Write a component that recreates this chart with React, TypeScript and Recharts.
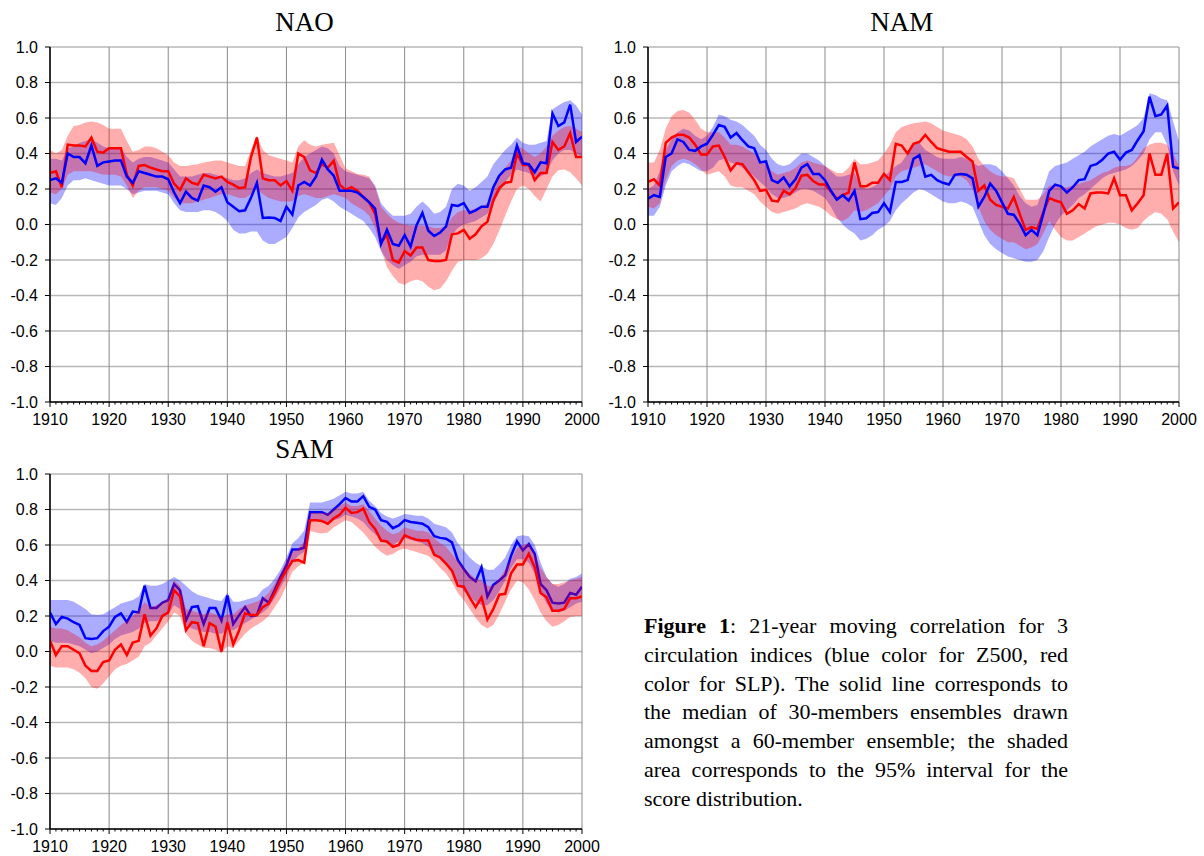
import React from 'react';
import { ComposedChart, Area, Line, XAxis, YAxis, CartesianGrid } from 'recharts';

const YEARS = Array.from({ length: 91 }, (_, i) => 1910 + i);
const DECADES = [1910, 1920, 1930, 1940, 1950, 1960, 1970, 1980, 1990, 2000];
const YTICKS = [-1, -0.8, -0.6, -0.4, -0.2, 0, 0.2, 0.4, 0.6, 0.8, 1];

// ---------------- NAO ----------------
const NAO_RED = [
  0.29, 0.30, 0.21, 0.45, 0.445, 0.445, 0.44, 0.49, 0.41, 0.405,
  0.43, 0.43, 0.43, 0.28, 0.22, 0.33, 0.335, 0.32, 0.31, 0.30,
  0.30, 0.23, 0.195, 0.26, 0.235, 0.225, 0.28, 0.27, 0.26, 0.27,
  0.24, 0.225, 0.205, 0.21, 0.38, 0.49, 0.26, 0.25, 0.25, 0.22,
  0.245, 0.19, 0.40, 0.38, 0.305, 0.29, 0.34, 0.32, 0.36, 0.225,
  0.195, 0.21, 0.19, 0.155, 0.125, 0.06, -0.10, -0.06, -0.20, -0.215,
  -0.15, -0.175, -0.13, -0.13, -0.20, -0.205, -0.205, -0.20, -0.055, -0.05,
  -0.03, -0.08, -0.055, -0.01, 0.015, 0.135, 0.205, 0.235, 0.24, 0.40,
  0.335, 0.335, 0.25, 0.29, 0.29, 0.465, 0.42, 0.44, 0.515, 0.38, 0.38,
];
const NAO_BLUE = [
  0.25, 0.26, 0.235, 0.40, 0.38, 0.38, 0.345, 0.445, 0.33, 0.35,
  0.355, 0.36, 0.36, 0.27, 0.235, 0.30, 0.29, 0.28, 0.27, 0.27,
  0.255, 0.18, 0.12, 0.185, 0.15, 0.135, 0.22, 0.21, 0.185, 0.21,
  0.125, 0.10, 0.075, 0.08, 0.15, 0.235, 0.037, 0.04, 0.037, 0.02,
  0.10, 0.056, 0.22, 0.24, 0.22, 0.27, 0.365, 0.31, 0.275, 0.19,
  0.19, 0.19, 0.18, 0.155, 0.125, 0.09, -0.11, -0.03, -0.11, -0.12,
  -0.06, -0.125, -0.005, 0.065, -0.035, -0.065, -0.045, -0.01, 0.11, 0.105,
  0.12, 0.065, 0.08, 0.10, 0.10, 0.21, 0.275, 0.31, 0.32, 0.445,
  0.345, 0.34, 0.295, 0.35, 0.345, 0.625, 0.555, 0.575, 0.675, 0.465, 0.495,
];
const NAO_RED_HI = [
  0.42, 0.40, 0.42, 0.50, 0.555, 0.56, 0.575, 0.58, 0.575, 0.56,
  0.54, 0.54, 0.54, 0.47, 0.41, 0.42, 0.44, 0.44, 0.43, 0.41,
  0.39, 0.35, 0.33, 0.33, 0.335, 0.34, 0.35, 0.355, 0.36, 0.36,
  0.35, 0.34, 0.33, 0.33, 0.42, 0.50, 0.42, 0.39, 0.38, 0.37,
  0.36, 0.35, 0.44, 0.475, 0.45, 0.44, 0.45, 0.455, 0.46, 0.39,
  0.315, 0.30, 0.285, 0.28, 0.27, 0.21, 0.10, 0.06, 0.03, 0.01,
  0.0, -0.005, -0.005, -0.005, -0.01, -0.02, -0.02, -0.01, 0.04, 0.07,
  0.08, 0.08, 0.09, 0.10, 0.12, 0.20, 0.27, 0.32, 0.36, 0.44,
  0.43, 0.40, 0.38, 0.40, 0.44, 0.50, 0.53, 0.55, 0.555, 0.54, 0.52,
];
const NAO_RED_LO = [
  0.18, 0.17, 0.20, 0.28, 0.30, 0.30, 0.30, 0.30, 0.29, 0.28,
  0.28, 0.28, 0.27, 0.22, 0.15, 0.19, 0.21, 0.21, 0.21, 0.20,
  0.19, 0.15, 0.12, 0.12, 0.12, 0.13, 0.14, 0.15, 0.16, 0.17,
  0.17, 0.16, 0.15, 0.15, 0.17, 0.20, 0.17, 0.15, 0.14, 0.13,
  0.13, 0.13, 0.16, 0.17, 0.16, 0.15, 0.15, 0.16, 0.17, 0.16,
  0.15, 0.12, 0.10, 0.08, 0.05, -0.02, -0.14, -0.24, -0.29, -0.33,
  -0.34, -0.32, -0.31, -0.32, -0.35, -0.37, -0.36, -0.32, -0.26, -0.21,
  -0.20, -0.20, -0.20, -0.19, -0.165, -0.11, -0.035, 0.05, 0.13, 0.20,
  0.22, 0.20, 0.16, 0.13, 0.20, 0.27, 0.305, 0.31, 0.295, 0.26, 0.22,
];
const NAO_BLUE_HI = [
  0.37, 0.37, 0.36, 0.43, 0.44, 0.46, 0.47, 0.48, 0.46, 0.44,
  0.43, 0.43, 0.43, 0.38, 0.35, 0.37, 0.38, 0.38, 0.37, 0.36,
  0.35, 0.31, 0.27, 0.27, 0.27, 0.28, 0.29, 0.29, 0.28, 0.27,
  0.26, 0.25, 0.25, 0.26, 0.29, 0.31, 0.29, 0.28, 0.27, 0.27,
  0.28, 0.29, 0.34, 0.38, 0.40, 0.42, 0.44, 0.43, 0.40, 0.33,
  0.30, 0.29, 0.28, 0.27, 0.26, 0.22, 0.12, 0.08, 0.05, 0.05,
  0.05, 0.06, 0.10, 0.13, 0.10, 0.06, 0.07, 0.10, 0.20, 0.23,
  0.22, 0.19, 0.21, 0.24, 0.27, 0.34, 0.38, 0.42, 0.45, 0.49,
  0.46, 0.45, 0.45, 0.46, 0.47, 0.65, 0.67, 0.69, 0.70, 0.67, 0.62,
];
const NAO_BLUE_LO = [
  0.12, 0.11, 0.15, 0.22, 0.25, 0.25, 0.26, 0.25, 0.24, 0.23,
  0.22, 0.22, 0.22, 0.20, 0.17, 0.18, 0.19, 0.19, 0.19, 0.18,
  0.17, 0.12, 0.08, 0.07, 0.07, 0.07, 0.08, 0.08, 0.07, 0.05,
  0.02, -0.03, -0.05, -0.05, -0.04, -0.04, -0.09, -0.11, -0.11, -0.09,
  -0.07, -0.02, 0.04, 0.07, 0.09, 0.11, 0.14, 0.15, 0.13, 0.10,
  0.08, 0.06, 0.04, 0.02, -0.02, -0.07, -0.15, -0.20, -0.23, -0.25,
  -0.23, -0.21, -0.18, -0.17, -0.17, -0.17, -0.17, -0.145, -0.06, -0.02,
  0.0, 0.01, 0.02, 0.04, 0.06, 0.12, 0.18, 0.24, 0.28, 0.31,
  0.30, 0.29, 0.27, 0.27, 0.29, 0.36, 0.40, 0.42, 0.42, 0.40, 0.38,
];

// ---------------- NAM ----------------
const NAM_RED = [
  0.24, 0.255, 0.22, 0.46, 0.49, 0.505, 0.505, 0.49, 0.45, 0.395,
  0.395, 0.44, 0.445, 0.38, 0.305, 0.345, 0.34, 0.295, 0.25, 0.19,
  0.195, 0.135, 0.13, 0.19, 0.17, 0.205, 0.275, 0.28, 0.245, 0.225,
  0.225, 0.185, 0.145, 0.165, 0.18, 0.35, 0.215, 0.215, 0.235, 0.235,
  0.285, 0.25, 0.455, 0.445, 0.40, 0.455, 0.465, 0.505, 0.465, 0.43,
  0.42, 0.41, 0.41, 0.41, 0.38, 0.355, 0.19, 0.22, 0.14, 0.11,
  0.10, 0.09, 0.155, 0.06, -0.03, -0.015, -0.025, 0.07, 0.15, 0.135,
  0.125, 0.06, 0.08, 0.115, 0.09, 0.175, 0.18, 0.18, 0.175, 0.26,
  0.165, 0.165, 0.08, 0.12, 0.165, 0.40, 0.28, 0.28, 0.40, 0.09, 0.125,
];
const NAM_BLUE = [
  0.145, 0.165, 0.155, 0.38, 0.40, 0.48, 0.465, 0.42, 0.415, 0.44,
  0.455, 0.505, 0.56, 0.55, 0.49, 0.515, 0.475, 0.44, 0.43, 0.35,
  0.355, 0.25, 0.235, 0.265, 0.215, 0.255, 0.32, 0.34, 0.285, 0.285,
  0.25, 0.19, 0.14, 0.165, 0.135, 0.19, 0.03, 0.035, 0.065, 0.07,
  0.12, 0.07, 0.24, 0.24, 0.25, 0.37, 0.39, 0.27, 0.28, 0.25,
  0.235, 0.225, 0.28, 0.285, 0.28, 0.26, 0.10, 0.155, 0.23, 0.19,
  0.125, 0.06, 0.055, 0.005, -0.06, -0.03, -0.06, 0.06, 0.19, 0.225,
  0.215, 0.18, 0.21, 0.25, 0.255, 0.33, 0.34, 0.365, 0.40, 0.41,
  0.365, 0.405, 0.42, 0.475, 0.525, 0.72, 0.61, 0.62, 0.67, 0.325, 0.315,
];
const NAM_RED_HI = [
  0.35, 0.35, 0.42, 0.54, 0.61, 0.64, 0.645, 0.63, 0.59, 0.54,
  0.52, 0.52, 0.52, 0.49, 0.45, 0.45, 0.44, 0.42, 0.40, 0.36,
  0.34, 0.30, 0.28, 0.29, 0.30, 0.32, 0.35, 0.36, 0.35, 0.34,
  0.33, 0.31, 0.29, 0.29, 0.32, 0.37, 0.34, 0.34, 0.35, 0.36,
  0.40, 0.45, 0.52, 0.55, 0.56, 0.57, 0.575, 0.58, 0.57, 0.55,
  0.53, 0.52, 0.51, 0.50, 0.48, 0.44, 0.37, 0.33, 0.30, 0.28,
  0.27, 0.27, 0.26, 0.20, 0.14, 0.14, 0.14, 0.17, 0.22, 0.22,
  0.21, 0.21, 0.22, 0.23, 0.24, 0.25, 0.27, 0.29, 0.30, 0.32,
  0.33, 0.33, 0.34, 0.38, 0.43, 0.45, 0.46, 0.46, 0.45, 0.40, 0.33,
];
const NAM_RED_LO = [
  0.10, 0.09, 0.12, 0.25, 0.33, 0.36, 0.37, 0.36, 0.34, 0.31,
  0.28, 0.29, 0.30, 0.27, 0.22, 0.21, 0.21, 0.19, 0.17, 0.13,
  0.10, 0.07, 0.06, 0.07, 0.08, 0.09, 0.11, 0.12, 0.11, 0.10,
  0.08, 0.05, 0.03, 0.02, 0.04, 0.08, 0.07, 0.08, 0.10, 0.12,
  0.16, 0.20, 0.27, 0.30, 0.31, 0.32, 0.33, 0.34, 0.32, 0.30,
  0.28, 0.27, 0.27, 0.27, 0.25, 0.20, 0.10, 0.02, -0.03, -0.06,
  -0.08, -0.10, -0.10, -0.12, -0.14, -0.13, -0.11, -0.05, 0.02, -0.03,
  -0.07, -0.09, -0.09, -0.07, -0.05, -0.03, -0.01, 0.0, 0.01, 0.01,
  0.0, -0.02, -0.03, -0.02, 0.02, 0.05, 0.07, 0.06, 0.03, -0.04, -0.10,
];
const NAM_BLUE_HI = [
  0.20, 0.22, 0.30, 0.42, 0.48, 0.52, 0.54, 0.53, 0.50, 0.48,
  0.50, 0.55, 0.62, 0.61, 0.59, 0.58, 0.56, 0.53, 0.50, 0.45,
  0.42, 0.37, 0.34, 0.33, 0.34, 0.37, 0.40, 0.40, 0.38, 0.36,
  0.33, 0.30, 0.27, 0.27, 0.28, 0.29, 0.22, 0.20, 0.21, 0.23,
  0.27, 0.30, 0.33, 0.35, 0.40, 0.45, 0.46, 0.42, 0.40, 0.38,
  0.37, 0.37, 0.37, 0.38, 0.37, 0.35, 0.33, 0.34, 0.34, 0.33,
  0.30, 0.26, 0.22, 0.16, 0.12, 0.10, 0.11, 0.20, 0.30, 0.33,
  0.34, 0.35, 0.37, 0.39, 0.41, 0.44, 0.46, 0.48, 0.50, 0.51,
  0.50, 0.52, 0.54, 0.56, 0.60, 0.74, 0.73, 0.71, 0.70, 0.58, 0.47,
];
const NAM_BLUE_LO = [
  0.05, 0.05, 0.10, 0.22, 0.30, 0.33, 0.35, 0.34, 0.32, 0.30,
  0.30, 0.32, 0.36, 0.37, 0.35, 0.34, 0.32, 0.30, 0.27, 0.24,
  0.21, 0.17, 0.15, 0.15, 0.16, 0.18, 0.20, 0.20, 0.19, 0.17,
  0.15, 0.10, 0.04, 0.0, -0.03, -0.05, -0.09, -0.08, -0.06, -0.03,
  -0.01, 0.02, 0.08, 0.12, 0.15, 0.18, 0.20, 0.19, 0.17, 0.15,
  0.13, 0.12, 0.12, 0.13, 0.12, 0.10, 0.02, -0.06, -0.11, -0.14,
  -0.16, -0.18, -0.19, -0.20, -0.21, -0.21, -0.20, -0.15, -0.07, 0.0,
  0.05, 0.08, 0.11, 0.15, 0.17, 0.20, 0.23, 0.26, 0.28, 0.29,
  0.30, 0.31, 0.33, 0.36, 0.40, 0.48, 0.52, 0.52, 0.45, 0.30, 0.22,
];

// ---------------- SAM ----------------
const SAM_RED = [
  0.06, -0.02, 0.03, 0.03, 0.01, -0.01, -0.08, -0.11, -0.11, -0.06,
  -0.05, 0.01, 0.04, -0.02, 0.05, 0.06, 0.21, 0.09, 0.13, 0.20,
  0.22, 0.345, 0.31, 0.12, 0.165, 0.16, 0.03, 0.16, 0.14, 0.0,
  0.165, 0.04, 0.12, 0.215, 0.205, 0.205, 0.25, 0.27, 0.33, 0.40,
  0.46, 0.51, 0.515, 0.50, 0.74, 0.74, 0.735, 0.72, 0.75, 0.77,
  0.81, 0.78, 0.785, 0.805, 0.73, 0.69, 0.625, 0.62, 0.59, 0.60,
  0.655, 0.64, 0.63, 0.625, 0.625, 0.545, 0.53, 0.495, 0.455, 0.37,
  0.365, 0.305, 0.25, 0.305, 0.18, 0.24, 0.32, 0.325, 0.44, 0.49,
  0.49, 0.55, 0.475, 0.33, 0.305, 0.23, 0.23, 0.24, 0.30, 0.30, 0.31,
];
const SAM_BLUE = [
  0.22, 0.155, 0.195, 0.185, 0.165, 0.15, 0.075, 0.07, 0.075, 0.115,
  0.14, 0.195, 0.215, 0.165, 0.225, 0.22, 0.37, 0.245, 0.245, 0.275,
  0.29, 0.38, 0.345, 0.175, 0.25, 0.255, 0.155, 0.245, 0.245, 0.175,
  0.315, 0.155, 0.205, 0.25, 0.20, 0.205, 0.30, 0.275, 0.345, 0.42,
  0.485, 0.575, 0.575, 0.585, 0.785, 0.785, 0.785, 0.77, 0.80, 0.83,
  0.865, 0.845, 0.845, 0.875, 0.815, 0.80, 0.74, 0.73, 0.695, 0.71,
  0.74, 0.73, 0.725, 0.72, 0.70, 0.65, 0.64, 0.635, 0.615, 0.515,
  0.465, 0.42, 0.395, 0.475, 0.31, 0.375, 0.40, 0.43, 0.54, 0.62,
  0.57, 0.605, 0.55, 0.38, 0.345, 0.275, 0.27, 0.275, 0.33, 0.32, 0.365,
];
const SAM_RED_HI = [
  0.14, 0.13, 0.13, 0.12, 0.10, 0.08, 0.05, 0.03, 0.04, 0.06,
  0.09, 0.12, 0.15, 0.17, 0.20, 0.23, 0.28, 0.25, 0.26, 0.28,
  0.30, 0.40, 0.37, 0.24, 0.23, 0.22, 0.21, 0.22, 0.21, 0.19,
  0.21, 0.21, 0.24, 0.26, 0.27, 0.28, 0.30, 0.33, 0.38, 0.44,
  0.51, 0.56, 0.58, 0.62, 0.78, 0.78, 0.78, 0.78, 0.80, 0.82,
  0.84, 0.82, 0.82, 0.83, 0.79, 0.75, 0.71, 0.68, 0.66, 0.67,
  0.70, 0.69, 0.68, 0.68, 0.67, 0.64, 0.61, 0.59, 0.55, 0.51,
  0.47, 0.44, 0.41, 0.40, 0.37, 0.37, 0.41, 0.46, 0.52, 0.58,
  0.60, 0.61, 0.55, 0.47, 0.42, 0.38, 0.38, 0.39, 0.40, 0.41, 0.42,
];
const SAM_RED_LO = [
  -0.08, -0.09, -0.09, -0.09, -0.10, -0.12, -0.15, -0.20, -0.21, -0.18,
  -0.14, -0.10, -0.08, -0.07, -0.05, -0.03, 0.03, 0.05, 0.09, 0.13,
  0.17, 0.22, 0.20, 0.10, 0.06, 0.04, 0.02, 0.02, 0.01, -0.01,
  0.03, 0.02, 0.06, 0.10, 0.13, 0.15, 0.17, 0.20, 0.25, 0.30,
  0.37, 0.45, 0.48, 0.50, 0.68, 0.67, 0.665, 0.67, 0.70, 0.72,
  0.74, 0.73, 0.70, 0.67, 0.63, 0.59, 0.56, 0.54, 0.55, 0.57,
  0.58, 0.57, 0.56, 0.55, 0.54, 0.51, 0.47, 0.44, 0.39, 0.33,
  0.29, 0.24, 0.19, 0.15, 0.13, 0.15, 0.21, 0.28, 0.35, 0.40,
  0.39, 0.35, 0.29, 0.22, 0.17, 0.14, 0.15, 0.17, 0.195, 0.20, 0.20,
];
const SAM_BLUE_HI = [
  0.29, 0.29, 0.29, 0.29, 0.28, 0.26, 0.24, 0.21, 0.205, 0.21,
  0.23, 0.25, 0.27, 0.28, 0.29, 0.31, 0.38, 0.37, 0.37, 0.38,
  0.40, 0.42, 0.40, 0.37, 0.34, 0.32, 0.31, 0.30, 0.29, 0.285,
  0.33, 0.28, 0.28, 0.29, 0.30, 0.31, 0.35, 0.37, 0.41, 0.46,
  0.53, 0.61, 0.64, 0.68, 0.84, 0.84, 0.84, 0.85, 0.86, 0.88,
  0.90, 0.89, 0.89, 0.90, 0.85, 0.82, 0.78, 0.76, 0.75, 0.76,
  0.775, 0.77, 0.765, 0.765, 0.75, 0.72, 0.71, 0.70, 0.67, 0.61,
  0.57, 0.53, 0.50, 0.48, 0.46, 0.46, 0.49, 0.53, 0.60, 0.65,
  0.655, 0.65, 0.60, 0.50, 0.42, 0.38, 0.365, 0.38, 0.41, 0.42, 0.44,
];
const SAM_BLUE_LO = [
  0.06, 0.05, 0.05, 0.05, 0.04, 0.03, 0.01, -0.01, 0.0, 0.02,
  0.04, 0.07, 0.09, 0.10, 0.11, 0.13, 0.16, 0.17, 0.17, 0.19,
  0.21, 0.26, 0.24, 0.15, 0.13, 0.12, 0.11, 0.11, 0.10, 0.10,
  0.12, 0.12, 0.14, 0.16, 0.18, 0.20, 0.22, 0.25, 0.30, 0.36,
  0.42, 0.50, 0.54, 0.56, 0.73, 0.74, 0.74, 0.73, 0.74, 0.75,
  0.77, 0.76, 0.75, 0.73, 0.69, 0.66, 0.63, 0.61, 0.60, 0.62,
  0.64, 0.63, 0.62, 0.61, 0.59, 0.55, 0.52, 0.49, 0.45, 0.39,
  0.34, 0.31, 0.28, 0.26, 0.26, 0.29, 0.34, 0.40, 0.47, 0.52,
  0.52, 0.50, 0.44, 0.34, 0.27, 0.23, 0.22, 0.23, 0.25, 0.27, 0.28,
];

const CAPTION_LINES = [
  'circulation indices (blue color for Z500, red',
  'color for SLP). The solid line corresponds to',
  'the median of 30-members ensembles drawn',
  'amongst a 60-member ensemble; the shaded',
  'area corresponds to the 95% interval for the',
];
const CAPTION_LAST = 'score distribution.';

const SANS = '"Liberation Sans", Arial, Helvetica, sans-serif';
const SERIF = '"Liberation Serif", "Times New Roman", Times, serif';

function buildRows(r: number[], b: number[], rlo: number[], rhi: number[], blo: number[], bhi: number[]) {
  return YEARS.map((year, i) => ({
    year,
    r: r[i],
    b: b[i],
    rb: [rlo[i], rhi[i]],
    bb: [blo[i], bhi[i]],
  }));
}

const BottomTick = (p: any) => {
  const { x, y, payload } = p;
  const v = payload.value;
  const major = v % 10 === 0;
  return (
    <g>
      <line x1={x} x2={x} y1={y} y2={y + (major ? 5 : 2.5)} stroke="#000" strokeWidth={1} />
      {major && (
        <text x={x} y={y + 12} dy="0.71em" textAnchor="middle" fontSize={16} fontFamily={SANS} fill="#000">
          {v}
        </text>
      )}
    </g>
  );
};

const TopTick = (p: any) => {
  const { x, y, payload } = p;
  const v = payload.value;
  const major = v % 10 === 0;
  return <line x1={x} x2={x} y1={y} y2={y - (major ? 5 : 3)} stroke="#333" strokeWidth={1} />;
};

const vGen = ({ xAxis, offset }: any) =>
  DECADES.map((d) =>
    xAxis && typeof xAxis.scale === 'function'
      ? xAxis.scale(d)
      : offset.left + ((d - 1910) / 90) * offset.width
  );

function Panel({ left, top, rightMargin, rows, samOrder }: any) {
  const blueArea = (
    <Area key="ba" yAxisId={0} xAxisId={0} type="linear" dataKey="bb" stroke="none" fill="#0000ff" fillOpacity={0.33}
      isAnimationActive={false} activeDot={false} dot={false} zIndex={100} />
  );
  const redArea = (
    <Area key="ra" yAxisId={0} xAxisId={0} type="linear" dataKey="rb" stroke="none" fill="#ff0000" fillOpacity={0.32}
      isAnimationActive={false} activeDot={false} dot={false} zIndex={samOrder ? 402 : 101} />
  );
  const blueLine = (
    <Line key="bl" yAxisId={0} xAxisId={0} type="linear" dataKey="b" stroke="#0000ff" strokeWidth={2.5} dot={false}
      activeDot={false} isAnimationActive={false} zIndex={samOrder ? 401 : 404} />
  );
  const redLine = (
    <Line key="rl" yAxisId={0} xAxisId={0} type="linear" dataKey="r" stroke="#ff0000" strokeWidth={2.5} dot={false}
      activeDot={false} isAnimationActive={false} zIndex={samOrder ? 403 : 403} />
  );
  const series = samOrder ? [blueArea, blueLine, redArea, redLine] : [blueArea, redArea, redLine, blueLine];
  return (
    <div style={{ position: 'absolute', left, top, width: 600, height: 440 }}>
      <ComposedChart width={600} height={440} data={rows} margin={{ top: 47, right: rightMargin, bottom: 0, left: 0 }}>
        <CartesianGrid xAxisId={0} yAxisId={0} vertical={false} stroke="#b8b8b8" strokeWidth={1.5} />
        <CartesianGrid xAxisId={0} yAxisId={0} horizontal={false} stroke="#8a8a8a" strokeWidth={1}
          verticalCoordinatesGenerator={vGen} />
        <XAxis xAxisId={0} dataKey="year" type="number" domain={[1910, 2000]} ticks={YEARS} interval={0}
          height={38} tickSize={0} tickMargin={0} tickLine={false} allowDataOverflow
          axisLine={{ stroke: '#000', strokeWidth: 1.5 }} tick={(p: any) => <BottomTick {...p} />} />
        <XAxis xAxisId="top" orientation="top" dataKey="year" type="number" domain={[1910, 2000]} ticks={YEARS}
          interval={0} height={0} tickSize={0} tickMargin={0} tickLine={false} allowDataOverflow
          axisLine={{ stroke: '#333', strokeWidth: 2 }} tick={(p: any) => <TopTick {...p} />} />
        <YAxis yAxisId={0} type="number" domain={[-1, 1]} ticks={YTICKS} interval={0} width={50} tickSize={5}
          tickMargin={7} allowDataOverflow tickFormatter={(v: number) => v.toFixed(1)}
          tick={{ fontSize: 16, fill: '#000', fontFamily: SANS }} tickLine={{ stroke: '#000', strokeWidth: 1 }}
          axisLine={{ stroke: '#000', strokeWidth: 1.5 }} />
        <YAxis yAxisId="right" orientation="right" type="number" domain={[-1, 1]} ticks={YTICKS} interval={0}
          width={0} tickSize={5} tick={false} allowDataOverflow tickLine={{ stroke: '#000', strokeWidth: 1 }}
          axisLine={{ stroke: '#000', strokeWidth: 1.5 }} />
        {series}
      </ComposedChart>
    </div>
  );
}

export default function App() {
  const nao = buildRows(NAO_RED, NAO_BLUE, NAO_RED_LO, NAO_RED_HI, NAO_BLUE_LO, NAO_BLUE_HI);
  const nam = buildRows(NAM_RED, NAM_BLUE, NAM_RED_LO, NAM_RED_HI, NAM_BLUE_LO, NAM_BLUE_HI);
  const sam = buildRows(SAM_RED, SAM_BLUE, SAM_RED_LO, SAM_RED_HI, SAM_BLUE_LO, SAM_BLUE_HI);
  const lineStyle: any = { textAlign: 'justify', textAlignLast: 'justify', whiteSpace: 'nowrap' };
  return (
    <div style={{ position: 'absolute', left: 0, top: 0, width: 1204, height: 856, background: '#fff', overflow: 'hidden' }}>
      <Panel left={0} top={0} rightMargin={18} rows={nao} samOrder={false} />
      <Panel left={598} top={0} rightMargin={19} rows={nam} samOrder={false} />
      <Panel left={0} top={427} rightMargin={18} rows={sam} samOrder={true} />
      <svg width={1204} height={856} style={{ position: 'absolute', left: 0, top: 0, pointerEvents: 'none' }}>
        <text x={304.5} y={31} textAnchor="middle" fontSize={27} fontFamily={SERIF} fill="#000">NAO</text>
        <text x={901.7} y={31} textAnchor="middle" fontSize={27} fontFamily={SERIF} fill="#000">NAM</text>
        <text x={304.5} y={457.5} textAnchor="middle" fontSize={27} fontFamily={SERIF} fill="#000">SAM</text>
      </svg>
      <div style={{ position: 'absolute', left: 644, top: 612, width: 424, fontFamily: SERIF, fontSize: 22, lineHeight: '28.8px', color: '#000' }}>
        <div style={lineStyle}><b>Figure 1</b>: 21-year moving correlation for 3</div>
        {CAPTION_LINES.map((l) => (
          <div key={l} style={{ textAlign: 'justify', textAlignLast: 'justify' } as any}>{l}</div>
        ))}
        <div style={{ textAlign: 'left' }}>{CAPTION_LAST}</div>
      </div>
    </div>
  );
}
